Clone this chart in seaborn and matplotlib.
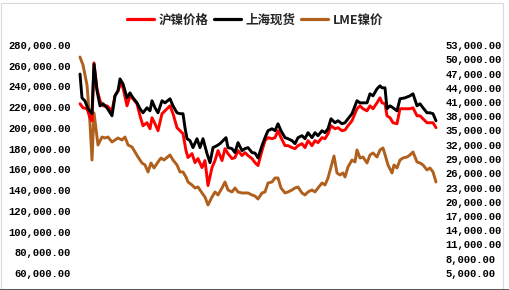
import matplotlib
matplotlib.use("Agg")
import matplotlib.pyplot as plt
import seaborn as sns
import pandas as pd
from matplotlib.ticker import FuncFormatter, MultipleLocator
from matplotlib.patches import Rectangle
from matplotlib.lines import Line2D

# ---------------- data (time index in weeks, prices) ----------------
spot_periods = [0, 2, 5, 8, 12, 14, 17, 20, 23, 27, 32, 35, 38, 40, 43, 47, 50, 53, 57, 60,
                63, 67, 70, 72, 75, 78, 82, 85, 90, 93, 97, 100, 103, 105, 107, 110, 113, 117,
                120, 123, 127, 130, 133, 137, 140, 143, 146, 148, 152, 155, 158, 162, 165, 168,
                172, 175, 178, 182, 185, 188, 192, 195, 198, 201, 205, 208, 212, 215, 218, 222,
                225, 228, 232, 235, 238, 242, 245, 248, 251, 255, 258, 262, 265, 268, 272, 277,
                280, 283, 287, 290, 293, 297, 300, 302, 305, 307, 310, 313, 317, 320, 325, 330,
                333, 337, 340, 343, 347, 350, 353, 356]
spot_price = [252000, 229000, 226000, 218500, 213700, 261700, 235800, 221300, 223300, 219400,
              211700, 231000, 235800, 247300, 242500, 229000, 233800, 229000, 224200, 218500,
              214600, 219400, 216500, 226200, 219400, 214600, 226200, 224200, 228100, 221300,
              214600, 213700, 213700, 200200, 189600, 187700, 181000, 189600, 181000, 189600,
              175200, 166500, 181000, 182900, 184800, 187700, 190600, 181000, 180000, 176200,
              185800, 178100, 180000, 181000, 176200, 175700, 171000, 182900, 190600, 197300,
              199200, 197300, 204000, 197300, 190600, 189600, 187700, 184800, 190600, 192500,
              189600, 195400, 190600, 195400, 192500, 197300, 195400, 199200, 208800, 205000,
              206900, 204000, 205000, 208800, 213700, 226200, 224200, 224200, 224200, 232900,
              231000, 237700, 240600, 238700, 238700, 218500, 221300, 219400, 216500, 228100,
              229000, 231000, 232900, 221300, 223300, 219400, 214600, 214600, 213700, 206900]

shfe_periods = [0, 3, 7, 10, 12, 14, 17, 20, 23, 27, 32, 35, 38, 41, 43, 47, 50, 53, 57, 60,
                63, 67, 70, 72, 75, 78, 82, 85, 90, 93, 97, 100, 103, 106, 108, 112, 115, 118,
                122, 125, 128, 132, 135, 138, 142, 145, 148, 152, 155, 158, 162, 165, 168, 172,
                175, 178, 182, 185, 188, 192, 195, 198, 201, 205, 208, 212, 215, 218, 222, 225,
                228, 232, 235, 238, 242, 245, 248, 251, 255, 258, 262, 265, 268, 272, 277, 280,
                283, 287, 290, 293, 297, 300, 302, 305, 307, 310, 313, 317, 320, 325, 330, 333,
                337, 340, 343, 347, 350, 353, 356]
shfe_price = [223300, 219400, 218500, 209800, 206900, 262700, 237700, 226200, 221300, 221300,
              216500, 231000, 235800, 243500, 238700, 221300, 231000, 228100, 223300, 211700,
              202100, 205000, 199200, 209800, 204000, 197300, 213700, 216500, 221300, 213700,
              200200, 197300, 194400, 178100, 171400, 175200, 166500, 170400, 161700, 168500,
              144400, 161700, 168500, 178100, 168500, 180000, 175200, 170400, 171400, 178100,
              173300, 176200, 173300, 170400, 166500, 163700, 178100, 187700, 190600, 189600,
              190600, 197300, 190600, 182900, 182900, 181000, 180000, 182900, 184800, 181000,
              187700, 182900, 187700, 185800, 190600, 189600, 194400, 202100, 199200, 200200,
              197300, 198000, 202100, 206900, 218500, 221300, 218500, 216500, 221300, 218500,
              224200, 229000, 224200, 223300, 211700, 209800, 205000, 204000, 218500, 218500,
              218500, 219400, 211700, 211700, 208800, 205000, 205000, 205000, 200200]

lme_periods = [0, 3, 7, 10, 12, 14, 18, 22, 25, 28, 32, 35, 38, 42, 45, 48, 52, 55, 58, 62,
               65, 68, 71, 74, 78, 81, 84, 90, 93, 97, 100, 103, 106, 108, 112, 115, 118, 122,
               125, 128, 132, 135, 138, 142, 145, 148, 152, 155, 158, 162, 165, 168, 172, 175,
               178, 182, 185, 188, 192, 195, 198, 201, 205, 208, 212, 215, 218, 222, 225, 228,
               232, 235, 238, 242, 245, 248, 251, 254, 257, 260, 263, 265, 268, 272, 275, 277,
               280, 283, 287, 290, 293, 297, 300, 303, 306, 308, 312, 314, 317, 320, 323, 327,
               330, 333, 337, 340, 343, 347, 350, 353, 356]
lme_price = [50470, 48790, 44580, 36580, 28790, 38690, 31950, 33630, 33420, 33630, 32580,
             33000, 33420, 33000, 33630, 31950, 31530, 30480, 29420, 28160, 27740, 26270,
             28160, 27110, 28370, 29210, 28790, 29850, 28790, 27740, 26270, 26270, 25210,
             24160, 23530, 22900, 23110, 21850, 21000, 19320, 21000, 22060, 21430, 22900,
             24160, 22480, 22060, 22900, 22060, 21850, 21850, 21850, 21430, 21200, 20580,
             21850, 22060, 23950, 24160, 25000, 25000, 22900, 21850, 22060, 22480, 22900,
             23110, 21850, 21430, 22060, 22480, 22060, 22900, 23950, 23530, 25000, 27320,
             29630, 26060, 25640, 26060, 25210, 27320, 28790, 28370, 30900, 29210, 29420,
             28160, 29850, 30270, 29420, 30900, 31320, 29210, 27740, 26060, 27740, 27110,
             28790, 29210, 29420, 29850, 30480, 28370, 28160, 27740, 26690, 27110, 26270, 24160]

series_names = ["沪镍价格", "上海现货", "LME镍价"]
series_colors = ["#FF0000", "#000000", "#B0601C"]

left_ticks = list(range(60000, 280001, 20000))
right_ticks = list(range(5000, 53001, 3000))

# ---------------- figure ----------------
sns.set_theme(style="white")
plt.rcParams['font.family'] = ['Noto Sans CJK SC', 'DejaVu Sans']

W, H = 510, 290
fig = plt.figure(figsize=(W / 100, H / 100), dpi=100)
fig.patch.set_facecolor("white")

ax_l, ax_r = 75, 441
ax_t, ax_b = 45, 273
ax = fig.add_axes([ax_l / W, 1 - ax_b / H, (ax_r - ax_l) / W, (ax_b - ax_t) / H])
ax2 = ax.twinx()

df_shfe = pd.DataFrame({"t": shfe_periods, "v": shfe_price})
df_spot = pd.DataFrame({"t": spot_periods, "v": spot_price})
df_lme = pd.DataFrame({"t": lme_periods, "v": lme_price})

lw = 2.1
sns.lineplot(data=df_lme, x="t", y="v", ax=ax2, color=series_colors[2], lw=lw, legend=False)
sns.lineplot(data=df_shfe, x="t", y="v", ax=ax, color=series_colors[0], lw=lw, legend=False)
sns.lineplot(data=df_spot, x="t", y="v", ax=ax, color=series_colors[1], lw=lw, legend=False)

ax.set_zorder(ax2.get_zorder() + 1)
ax.patch.set_visible(False)

ax.set_xlim(-5, 361)
ax.set_ylim(60000, 280000)
ax2.set_ylim(5000, 53000)
ax.set_yticks(left_ticks)
ax2.set_yticks(right_ticks)
ax.set_xticks([])
for a in (ax, ax2):
    a.set_xlabel("")
    a.set_ylabel("")
    for s in a.spines.values():
        s.set_visible(False)
    a.grid(False)

fmt = FuncFormatter(lambda v, p: f"{v:,.2f}")
ax.yaxis.set_major_formatter(fmt)
ax2.yaxis.set_major_formatter(fmt)
tick_font = dict(family="Liberation Mono", weight="bold", size=7.6)
ax.tick_params(axis="y", length=0, pad=3, colors="black")
ax2.tick_params(axis="y", length=0, pad=3, colors="black")
for lab in ax.get_yticklabels() + ax2.get_yticklabels():
    lab.set_fontfamily("Liberation Mono")
    lab.set_fontweight("bold")
    lab.set_fontsize(7.6)

handles = [Line2D([], [], color=c, lw=2.3) for c in series_colors]
fig.legend(handles, series_names, loc="center", bbox_to_anchor=(0.5, 1 - 20 / H),
           ncol=3, frameon=False, handlelength=2.2, handletextpad=0.35,
           columnspacing=0.4, prop=dict(family=['Noto Sans CJK SC', 'DejaVu Sans'],
                                        weight="bold", size=9))

# chart border
fig.add_artist(Rectangle((1 / W, 1 / H), 502 / W, 286 / H, transform=fig.transFigure,
                         fill=False, edgecolor="#D9D9D9", lw=0.8))
fig.add_artist(Line2D([0, 1], [0.5 / H, 0.5 / H], transform=fig.transFigure,
                      color="#404040", lw=1.2))

fig.savefig("out.png", dpi=100, facecolor="white")
